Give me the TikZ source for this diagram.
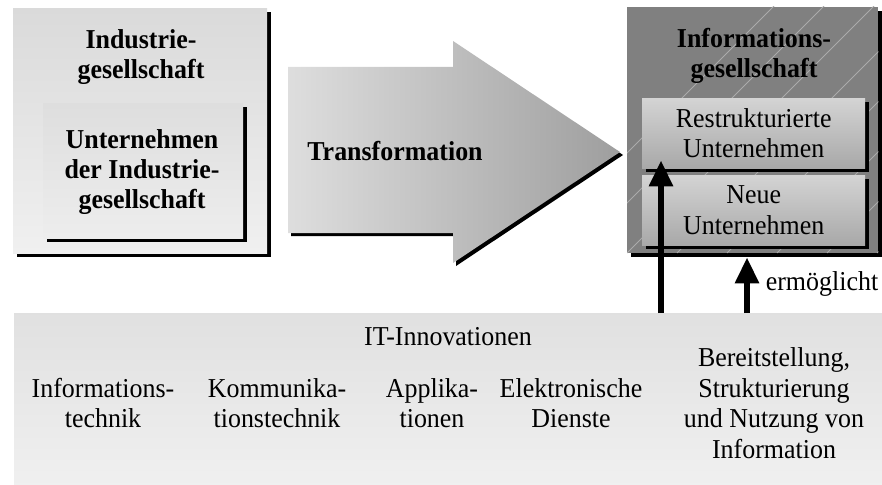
\documentclass[tikz,border=0pt]{standalone}
\usepackage{fontspec}
\setmainfont{Liberation Serif}[FakeStretch=0.95]
\usetikzlibrary{arrows.meta,shadows}
\definecolor{PanelTop}{HTML}{DADADA}
\definecolor{PanelBottom}{HTML}{F0F0F0}
\definecolor{SocietyDark}{HTML}{808080}
\definecolor{SocietyHatch}{HTML}{ABABAB}

\begin{document}
\begin{tikzpicture}[
    x=1pt, y=-1pt,
    panel/.style={anchor=north west, inner sep=0pt, top color=PanelTop, bottom color=PanelBottom},
    shadowed/.style={drop shadow={shadow xshift=4pt, shadow yshift=-4pt, fill=black, opacity=1}},
    firm/.style={anchor=north west, inner sep=0pt, top color=black!17, bottom color=black!34,
        minimum width=223, minimum height=70, shadowed},
    lbl/.style={font=\fontsize{27.3}{30.5}\selectfont, align=center, inner sep=0pt},
    title/.style={lbl, font=\fontsize{27.3}{30}\selectfont\bfseries},
    uparrow/.style={line width=6pt, -{Triangle[width=23pt,length=26pt]}}
]
    \useasboundingbox (0,0) rectangle (882,484);

    % IT innovations (bottom band)
    \node[panel, top color=black!12, bottom color=black!6, minimum width=868, minimum height=171] (it) at (14,313) {};
    \node[lbl, anchor=base] (itlbl) at (448,345) {IT-Innovationen};
    \node[lbl] (infotech) at (103,403) {Informations-\\technik};
    \node[lbl] (kommtech) at (277,403) {Kommunika-\\tionstechnik};
    \node[lbl] (appl) at (432,403) {Applika-\\tionen};
    \node[lbl] (dienste) at (571,403) {Elektronische\\Dienste};
    \node[lbl] (bereit) at (774,403) {Bereitstellung,\\Strukturierung\\und Nutzung von\\Information};

    % Industrial society
    \node[panel, shadowed, minimum width=254, minimum height=245] (indges) at (13,8) {};
    \node[title] (indlbl) at (141,57) {Industrie-\\gesellschaft};
    \node[panel, shadowed, top color=black!13, bottom color=black!7, minimum width=200, minimum height=135] (indfirm) at (43,103) {};
    \node[title] (indfirmlbl) at (142,172) {Unternehmen\\der Industrie-\\gesellschaft};

    % Transformation arrow
    \fill[black] (291,70) -- (456,70) -- (456,44) -- (623,155) -- (456,266) -- (456,236) -- (291,236) -- cycle;
    \shade[left color=black!13, right color=black!38]
        (288,67) -- (453,67) -- (453,41) -- (620,152) -- (453,263) -- (453,233) -- (288,233) -- cycle;
    \node[title, anchor=base] (trans) at (395,160) {Transformation};

    % Information society
    \node[anchor=north west, inner sep=0pt, fill=SocietyDark, shadowed, minimum width=251, minimum height=246] (infoges) at (627,7) {};
    \begin{scope}
        \clip (infoges.south west) rectangle (infoges.north east);
        \foreach \k in {-1,...,10}
            \draw[SocietyHatch, line width=1pt] (577+50*\k,253) -- ++(250,-250);
    \end{scope}
    \node[title] (infolbl) at (754,56) {Informations-\\gesellschaft};
    \node[firm] (rest) at (642,98) {};
    \node[lbl] at (rest.center) {Restrukturierte\\Unternehmen};
    \node[firm] (neu) at (642,175) {};
    \node[lbl] at (neu.center) {Neue\\Unternehmen};

    % Enabling arrows
    \coordinate (a1) at (661,0);
    \coordinate (a2) at (747,0);
    \draw[uparrow] (it.north -| a1) -- ([yshift=8pt]rest.south -| a1);
    \draw[uparrow] (it.north -| a2) -- ([yshift=-4pt]infoges.south -| a2);
    \node[lbl, anchor=base] (ermoeg) at (822,290) {ermöglicht};
\end{tikzpicture}
\end{document}
